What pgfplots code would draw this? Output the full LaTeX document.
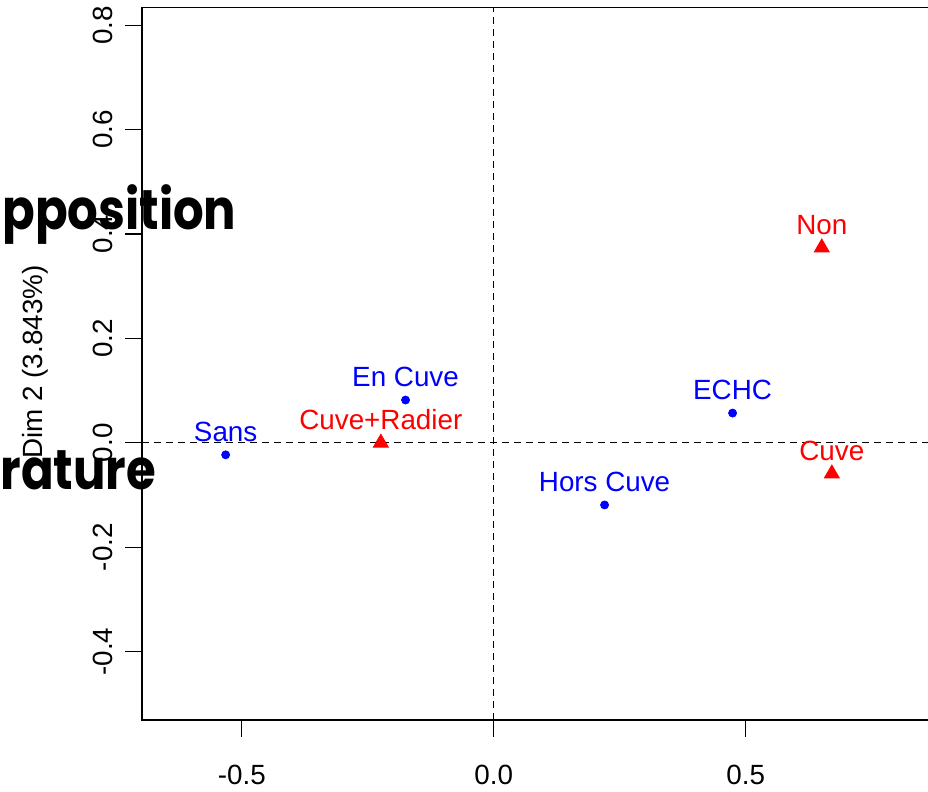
\documentclass[border=0pt]{standalone}
\usepackage{fontspec}
\setmainfont{Liberation Sans}
\newfontfamily\comicfont{Poppins}
\usepackage{pgfplots}
\pgfplotsset{compat=1.18}
\newcommand{\lbl}{\fontsize{13.9}{16}\selectfont}
\begin{document}
\begin{tikzpicture}[x=1pt,y=1pt]
\begin{axis}[
  at={(71pt,36pt)}, anchor=south west,
  scale only axis, width=420pt, height=356.25pt,
  xmin=-0.698, xmax=0.969, ymin=-0.531, ymax=0.834,
  xtick={-0.5,0,0.5}, xticklabels={-0.5,0.0,0.5},
  ytick={-0.4,-0.2,0,0.2,0.4,0.6,0.8},
  yticklabels={-0.4,-0.2,0.0,0.2,0.4,0.6,0.8},
  tick pos=left, tick align=outside, major tick length=8.5pt,
  axis line style={line width=0.8pt},
  tick style={line width=0.6pt, black},
  ticklabel style={font=\lbl},
  /pgf/number format/assume math mode=true,
  xticklabel style={yshift=-10.5pt},
  yticklabel style={rotate=90, anchor=south},
  yticklabel shift=2.5pt,
  clip=false,
]
\addplot[black, dashed, line width=0.5pt, dash pattern=on 3.5pt off 2.5pt, forget plot] coordinates {(0,-0.531) (0,0.834)};
\addplot[black, dashed, line width=0.5pt, dash pattern=on 3.5pt off 2.5pt, forget plot] coordinates {(-0.698,0) (0.969,0)};
\addplot[only marks, mark=*, mark size=2pt, color=blue,
  nodes near coords, point meta=explicit symbolic,
  every node near coord/.append style={font=\lbl, text=blue, anchor=center, yshift=11.5pt, inner sep=0pt}]
  table[meta=label, col sep=comma] {
x,y,label
-0.532,-0.023,Sans
-0.175,0.082,En Cuve
0.220,-0.119,Hors Cuve
0.474,0.057,ECHC
};
\addplot[only marks, mark=triangle*, mark size=4.3pt, color=red,
  nodes near coords, point meta=explicit symbolic,
  every node near coord/.append style={font=\lbl, text=red, anchor=center, yshift=11.5pt, inner sep=0pt}]
  table[meta=label, col sep=comma] {
x,y,label
-0.224,0.0,Cuve+Radier
0.651,0.374,Non
0.671,-0.059,Cuve
};
\end{axis}
\node[rotate=90, anchor=base, font=\lbl] at (21,215) {Dim 2 (3.843\%)};
\node[anchor=base west, inner sep=0pt, font=\comicfont\bfseries\fontsize{28}{30}\selectfont] at (1,281) {\scalebox{0.86}[1]{pposition}};
\node[anchor=base west, inner sep=0pt, font=\comicfont\bfseries\fontsize{28}{30}\selectfont] at (0,151) {\scalebox{0.86}[1]{rature}};
\pgfresetboundingbox
\path[use as bounding box] (0,0) rectangle (464,396);
\end{tikzpicture}
\end{document}
